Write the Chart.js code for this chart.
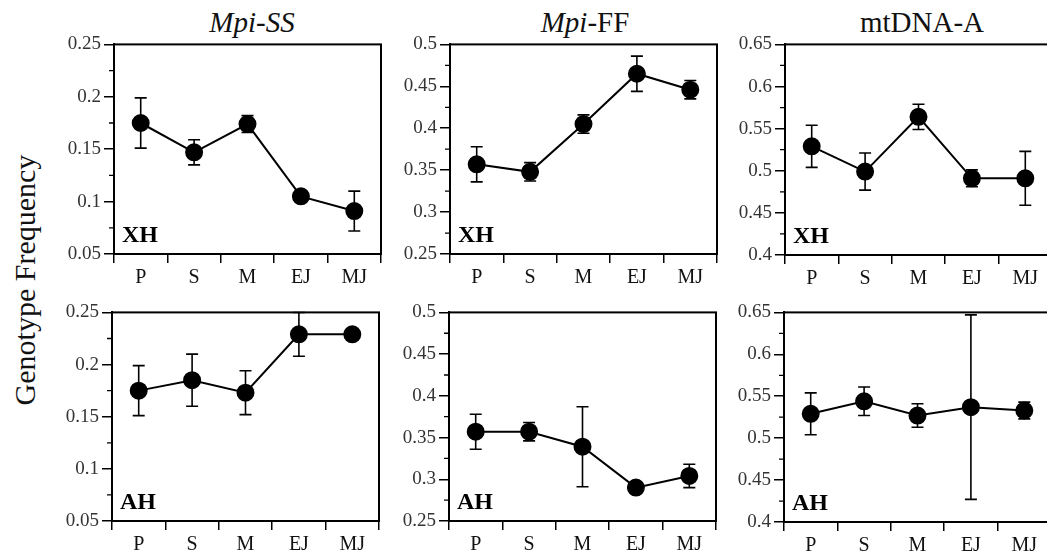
<!DOCTYPE html>
<html>
<head>
<meta charset="utf-8">
<script src="https://cdn.jsdelivr.net/npm/chart.js"></script>
<style>
  html, body { margin: 0; padding: 0; background: #fff; overflow: hidden; }
  body { width: 1047px; height: 557px; font-family: "Liberation Serif", "Times New Roman", "DejaVu Serif", serif; color: #111; }
  #wrap { position: absolute; left: 0; top: 0; width: 1047px; height: 557px; overflow: hidden; }
  canvas { position: absolute; }
  .title { position: absolute; top: 6px; font-size: 29px; line-height: 32px; transform: translateX(-50%); white-space: nowrap; }
  #ylabel { position: absolute; left: 25px; top: 280px; font-size: 30px; transform: translate(-50%, -50%) rotate(-90deg); white-space: nowrap; }
</style>
</head>
<body>
<div id="wrap">
  <div class="title" style="left:252px"><i>Mpi-SS</i></div>
  <div class="title" style="left:585px"><i>Mpi</i>-FF</div>
  <div class="title" style="left:922px">mtDNA-A</div>
  <div id="ylabel">Genotype Frequency</div>
</div>

<script>
// categories (sampling stages)
const categories = ["P", "S", "M", "EJ", "MJ"];

// Mpi-SS
const ssXH = [0.175, 0.147, 0.174, 0.105, 0.091];
const ssXHErr = [0.024, 0.012, 0.008, 0.004, 0.019];
const ssAH = [0.175, 0.185, 0.173, 0.229, 0.229];
const ssAHErr = [0.024, 0.025, 0.021, 0.021, 0.004];

// Mpi-FF
const ffXH = [0.357, 0.348, 0.405, 0.465, 0.446];
const ffXHErr = [0.021, 0.011, 0.011, 0.021, 0.011];
const ffAH = [0.357, 0.357, 0.339, 0.290, 0.304];
const ffAHErr = [0.021, 0.011, 0.048, 0.004, 0.014];

// mtDNA-A
const mtXH = [0.529, 0.499, 0.564, 0.491, 0.491];
const mtXHErr = [0.025, 0.022, 0.015, 0.010, 0.032];
const mtAH = [0.529, 0.544, 0.527, 0.537, 0.533];
const mtAHErr = [0.025, 0.017, 0.014, 0.110, 0.010];

// y ranges
const ssRange = [0.05, 0.25];
const ffRange = [0.25, 0.5];
const mtRange = [0.4, 0.65];

// layout
const PLOT_W = 267, PAD_L = 75, PAD_T = 14, PAD_R = 14, AXIS_H = 44;
const SERIF = '"Liberation Serif", "Times New Roman", "DejaVu Serif", serif';

const panels = [
  { tag: "XH", vals: ssXH, errs: ssXHErr, range: ssRange, x: 114, y: 44, h: 210 },
  { tag: "XH", vals: ffXH, errs: ffXHErr, range: ffRange, x: 450, y: 44, h: 210 },
  { tag: "XH", vals: mtXH, errs: mtXHErr, range: mtRange, x: 785, y: 44, h: 211 },
  { tag: "AH", vals: ssAH, errs: ssAHErr, range: ssRange, x: 112, y: 312, h: 209 },
  { tag: "AH", vals: ffAH, errs: ffAHErr, range: ffRange, x: 449, y: 312, h: 209 },
  { tag: "AH", vals: mtAH, errs: mtAHErr, range: mtRange, x: 784, y: 312, h: 210 },
];

Chart.defaults.font.family = SERIF;
Chart.defaults.color = "#111";

// error bars, frame, minor ticks and panel tag
const panelPlugin = {
  id: "panel",
  beforeDatasetsDraw(chart, args, opts) {
    const { ctx, chartArea: a, scales: { x, y } } = chart;
    const vals = chart.data.datasets[0].data;
    ctx.save();
    ctx.beginPath();
    ctx.rect(a.left, a.top - 1, a.width, a.height + 2);
    ctx.clip();
    ctx.strokeStyle = "#000";
    ctx.lineWidth = 1.6;
    vals.forEach((v, i) => {
      const px = x.getPixelForValue(i);
      const hi = y.getPixelForValue(v + opts.errs[i]);
      const lo = y.getPixelForValue(v - opts.errs[i]);
      ctx.beginPath();
      ctx.moveTo(px, hi); ctx.lineTo(px, lo);
      ctx.moveTo(px - 6, hi); ctx.lineTo(px + 6, hi);
      ctx.moveTo(px - 6, lo); ctx.lineTo(px + 6, lo);
      ctx.stroke();
    });
    ctx.restore();
  },
  afterDraw(chart, args, opts) {
    const { ctx, chartArea: a, scales: { y } } = chart;
    ctx.save();
    ctx.strokeStyle = "#000";
    ctx.lineWidth = 1.3;
    ctx.beginPath();
    const t = y.ticks;
    for (let i = 0; i < t.length - 1; i++) {
      const py = y.getPixelForValue((t[i].value + t[i + 1].value) / 2);
      ctx.moveTo(a.left - 5, py);
      ctx.lineTo(a.left, py);
    }
    ctx.stroke();
    ctx.lineWidth = 2;
    ctx.strokeRect(a.left, a.top, a.width, a.height);
    ctx.fillStyle = "#000";
    ctx.font = "bold 24px " + SERIF;
    ctx.textBaseline = "alphabetic";
    ctx.fillText(opts.tag, a.left + 8, a.bottom - 12);
    ctx.restore();
  },
};

const wrap = document.getElementById("wrap");

panels.forEach((p) => {
  const cv = document.createElement("canvas");
  const w = PAD_L + PLOT_W + PAD_R;
  const h = PAD_T + p.h + AXIS_H;
  cv.width = w; cv.height = h;
  cv.style.width = w + "px"; cv.style.height = h + "px";
  cv.style.left = (p.x - PAD_L) + "px";
  cv.style.top = (p.y - PAD_T) + "px";
  wrap.appendChild(cv);

  new Chart(cv.getContext("2d"), {
    type: "line",
    data: {
      labels: categories,
      datasets: [{
        data: p.vals,
        borderColor: "#000",
        borderWidth: 2,
        backgroundColor: "#000",
        pointBackgroundColor: "#000",
        pointBorderColor: "#000",
        pointRadius: 8,
        tension: 0,
      }],
    },
    options: {
      responsive: false,
      animation: false,
      layout: { padding: { top: PAD_T, right: PAD_R, left: 0, bottom: 0 } },
      plugins: {
        legend: { display: false },
        tooltip: { enabled: false },
        panel: { errs: p.errs, tag: p.tag },
      },
      scales: {
        x: {
          type: "category",
          offset: true,
          grid: { offset: true, drawOnChartArea: false, tickLength: 9, color: "#000", lineWidth: 1.5 },
          border: { color: "#000", width: 2 },
          ticks: { color: "#111", font: { size: 20 }, padding: 3, maxRotation: 0 },
          afterFit(s) { s.height = AXIS_H; },
        },
        y: {
          min: p.range[0],
          max: p.range[1],
          grid: { drawOnChartArea: false, tickLength: 10, color: "#000", lineWidth: 1.5 },
          border: { color: "#000", width: 2 },
          ticks: { stepSize: 0.05, color: "#333", font: { size: 19 }, padding: 3, callback: (v) => String(+v.toFixed(3)) },
          afterFit(s) { s.width = PAD_L; },
        },
      },
    },
    plugins: [panelPlugin],
  });
});
</script>
</body>
</html>
